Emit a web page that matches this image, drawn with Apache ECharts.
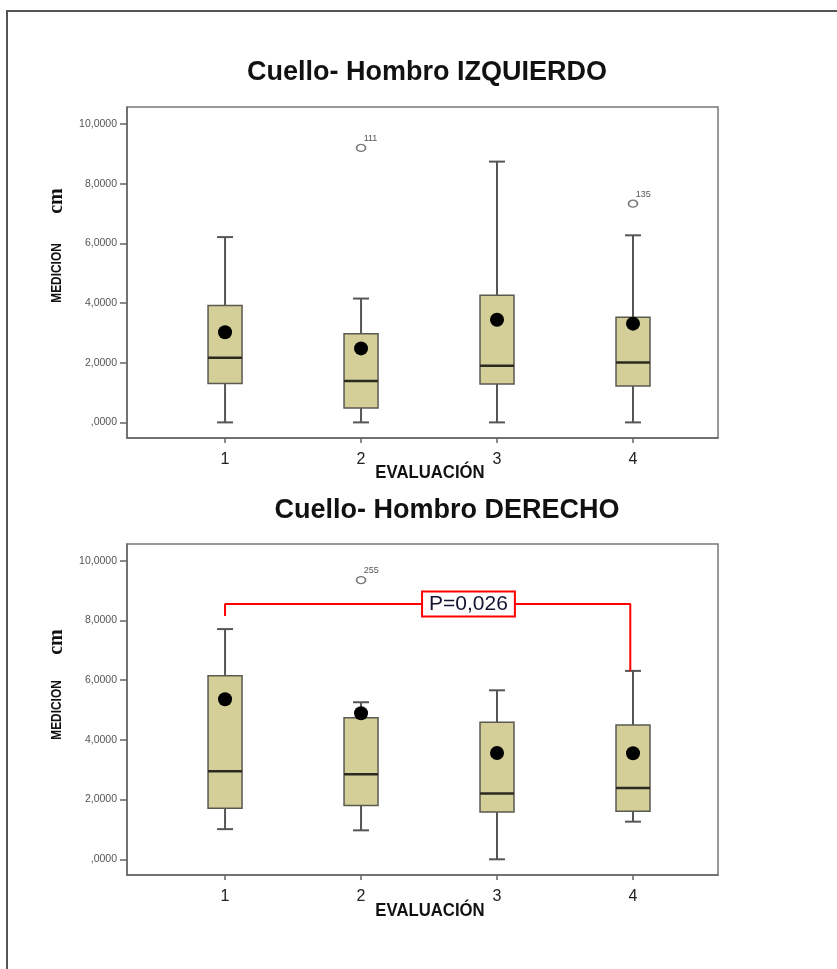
<!DOCTYPE html>
<html>
<head>
<meta charset="utf-8">
<script src="https://cdn.jsdelivr.net/npm/echarts@6/dist/echarts.min.js"></script>
<style>
html,body{margin:0;padding:0;background:#fff;}
#c{width:837px;height:969px;}
</style>
</head>
<body>
<div id="c"></div>
<script>
// ---- data ----
var evalLabels = ['1', '2', '3', '4'];
var evalPos = [1, 2, 3, 4];
var yTicks = [0, 2, 4, 6, 8, 10];

// Cuello- Hombro IZQUIERDO
var izqMin  = [0, 0, 0, 0];
var izqQ1   = [1.30, 0.48, 1.29, 1.22];
var izqMed  = [2.17, 1.39, 1.90, 2.01];
var izqQ3   = [3.92, 2.97, 4.26, 3.52];
var izqMax  = [6.21, 4.15, 8.74, 6.27];
var izqMean = [3.02, 2.48, 3.44, 3.31];
var izqOutX = [2, 4];
var izqOutY = [9.20, 7.33];
var izqOutId = ['111', '135'];

// Cuello- Hombro DERECHO
var derMin  = [1.01, 0.97, 0, 1.26];
var derQ1   = [1.71, 1.80, 1.58, 1.61];
var derMed  = [2.95, 2.85, 2.20, 2.39];
var derQ3   = [6.15, 4.74, 4.59, 4.50];
var derMax  = [7.71, 5.26, 5.66, 6.31];
var derMean = [5.36, 4.89, 3.56, 3.55];
var derOutX = [2];
var derOutY = [9.35];
var derOutId = ['255'];

// significance bracket (DERECHO, eval 1 vs 4)
var bracketX = [1, 1, 3.98, 3.98];
var bracketY = [8.15, 8.55, 8.55, 6.31];
var pText = 'P=0,026';
var pLabelX = 2.79;

// ---- helpers ----
function boxData(mn, q1, md, q3, mx) {
  return evalPos.map(function (x, i) { return [x, mn[i], q1[i], md[i], q3[i], mx[i]]; });
}
function pts(xs, ys) { return xs.map(function (x, i) { return [x, ys[i]]; }); }

function renderBox(params, api) {
  var x = api.value(0);
  var p = function (v) { return api.coord([x, v]); };
  var lo = p(api.value(1)), q1 = p(api.value(2)), md = p(api.value(3)), q3 = p(api.value(4)), hi = p(api.value(5));
  var cx = lo[0];
  var hw = api.size([1, 0])[0] * 0.125;
  var cap = 8;
  var ls = { stroke: '#555', lineWidth: 2 };
  return {
    type: 'group',
    children: [
      { type: 'line', shape: { x1: cx, y1: hi[1], x2: cx, y2: q3[1] }, style: ls },
      { type: 'line', shape: { x1: cx, y1: q1[1], x2: cx, y2: lo[1] }, style: ls },
      { type: 'line', shape: { x1: cx - cap, y1: hi[1], x2: cx + cap, y2: hi[1] }, style: ls },
      { type: 'line', shape: { x1: cx - cap, y1: lo[1], x2: cx + cap, y2: lo[1] }, style: ls },
      { type: 'rect', shape: { x: cx - hw, y: q3[1], width: hw * 2, height: q1[1] - q3[1] },
        style: { fill: '#d4cf98', stroke: '#5a5a50', lineWidth: 1.5 } },
      { type: 'line', shape: { x1: cx - hw, y1: md[1], x2: cx + hw, y2: md[1] }, style: { stroke: '#2a2a22', lineWidth: 2.5 } }
    ]
  };
}

var FONT = '"Liberation Sans", Arial, sans-serif';

function yAxisDef(gi, mn, mx) {
  return {
    type: 'value', gridIndex: gi, min: mn, max: mx,
    axisLine: { show: true, onZero: false, lineStyle: { color: '#666', width: 1.5 } },
    axisTick: { show: true, length: 7, lineStyle: { color: '#666', width: 1.5 }, customValues: yTicks },
    axisLabel: { customValues: yTicks, fontSize: 10.5, color: '#555', fontFamily: FONT, margin: 10,
      formatter: function (v) { return (v === 0 ? '' : String(v)) + ',0000'; } },
    splitLine: { show: false }
  };
}
function xAxisDef(gi) {
  return {
    type: 'value', gridIndex: gi, min: 0.279, max: 4.625,
    axisLine: { show: true, onZero: false, lineStyle: { color: '#666', width: 1.5 } },
    axisTick: { show: true, length: 5, lineStyle: { color: '#666', width: 1.5 }, customValues: evalPos },
    axisLabel: { customValues: evalPos, fontSize: 16, color: '#222', fontFamily: FONT, margin: 14,
      formatter: function (v) { return evalLabels[evalPos.indexOf(v)] || ''; } },
    splitLine: { show: false }
  };
}

function outlierSeries(gi, xs, ys, ids) {
  return {
    type: 'scatter', xAxisIndex: gi, yAxisIndex: gi,
    data: xs.map(function (x, i) { return [x, ys[i]]; }),
    symbol: 'circle', symbolSize: [9, 7],
    itemStyle: { color: '#fff', borderColor: '#777', borderWidth: 1.5, opacity: 1 },
    label: { show: true, position: [8, -10], fontSize: 9, color: '#555', fontFamily: FONT,
      formatter: function (p) { return ids[p.dataIndex]; } },
    z: 4
  };
}

function txt(x, y, text, font, rot, sx) {
  return { type: 'text', x: x, y: y, rotation: rot || 0, scaleX: sx || 1,
    style: { text: text, font: font, fill: '#111', align: 'center', verticalAlign: 'middle' } };
}

var chart = echarts.init(document.getElementById('c'), null, { renderer: 'canvas' });
chart.setOption({
  animation: false,
  backgroundColor: '#fff',
  grid: [
    { left: 127, top: 107, width: 591, height: 331, show: true, borderColor: '#777', borderWidth: 1.5, backgroundColor: '#fff' },
    { left: 127, top: 544, width: 591, height: 331, show: true, borderColor: '#777', borderWidth: 1.5, backgroundColor: '#fff' }
  ],
  xAxis: [xAxisDef(0), xAxisDef(1)],
  yAxis: [yAxisDef(0, -0.523, 10.57), yAxisDef(1, -0.526, 10.56)],
  graphic: [
    { type: 'rect', shape: { x: 7, y: 11, width: 840, height: 970 }, style: { fill: 'none', stroke: '#555', lineWidth: 2 }, silent: true },
    txt(427, 73, 'Cuello- Hombro IZQUIERDO', 'bold 27px ' + FONT),
    txt(447, 511, 'Cuello- Hombro DERECHO', 'bold 27px ' + FONT),
    txt(430, 473, 'EVALUACIÓN', 'bold 19px ' + FONT, 0, 0.88),
    txt(430, 911, 'EVALUACIÓN', 'bold 19px ' + FONT, 0, 0.88),
    { type: 'text', x: 57, y: 273, rotation: Math.PI / 2, scaleX: 0.85,
      style: { text: 'MEDICION', font: 'bold 14px ' + FONT, fill: '#111', align: 'center', verticalAlign: 'middle' } },
    txt(57, 201, 'cm', 'bold 20px "Liberation Serif", "Times New Roman", serif', Math.PI / 2),
    { type: 'text', x: 57, y: 710, rotation: Math.PI / 2, scaleX: 0.85,
      style: { text: 'MEDICION', font: 'bold 14px ' + FONT, fill: '#111', align: 'center', verticalAlign: 'middle' } },
    txt(57, 642, 'cm', 'bold 20px "Liberation Serif", "Times New Roman", serif', Math.PI / 2)
  ],
  series: [
    { type: 'custom', xAxisIndex: 0, yAxisIndex: 0, renderItem: renderBox, data: boxData(izqMin, izqQ1, izqMed, izqQ3, izqMax), z: 2,
      encode: { x: 0, y: [1, 2, 3, 4, 5] } },
    { type: 'scatter', xAxisIndex: 0, yAxisIndex: 0, data: pts(evalPos, izqMean), symbol: 'circle', symbolSize: 14,
      itemStyle: { color: '#000', opacity: 1 }, z: 5 },
    outlierSeries(0, izqOutX, izqOutY, izqOutId),

    { type: 'custom', xAxisIndex: 1, yAxisIndex: 1, renderItem: renderBox, data: boxData(derMin, derQ1, derMed, derQ3, derMax), z: 2,
      encode: { x: 0, y: [1, 2, 3, 4, 5] } },
    { type: 'scatter', xAxisIndex: 1, yAxisIndex: 1, data: pts(evalPos, derMean), symbol: 'circle', symbolSize: 14,
      itemStyle: { color: '#000', opacity: 1 }, z: 5 },
    outlierSeries(1, derOutX, derOutY, derOutId),

    { type: 'line', xAxisIndex: 1, yAxisIndex: 1, data: pts(bracketX, bracketY), symbol: 'none',
      lineStyle: { color: '#ff0000', width: 2 }, z: 3 },
    { type: 'scatter', xAxisIndex: 1, yAxisIndex: 1, data: [[pLabelX, bracketY[1]]], symbolSize: 0, z: 6,
      itemStyle: { opacity: 1 },
      label: { show: true, position: 'inside', formatter: pText, fontSize: 21, color: '#141432', fontFamily: FONT,
        backgroundColor: '#fff', borderColor: '#ff0000', borderWidth: 2, padding: [2, 6, 0, 6] } }
  ]
});
</script>
</body>
</html>
